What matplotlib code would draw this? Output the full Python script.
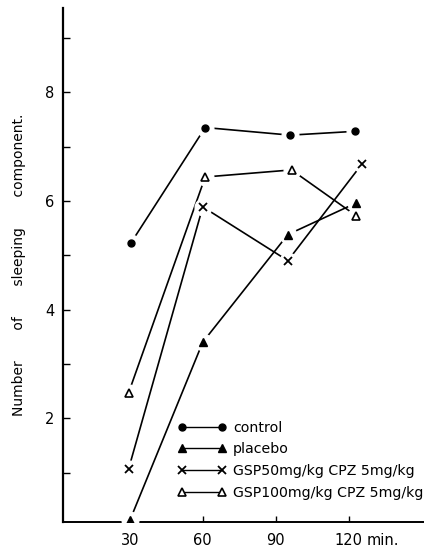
import matplotlib
matplotlib.use("Agg")
import matplotlib.pyplot as plt

# sampling times (min) and number of sleeping components for each group
control_t = [30.5, 61, 96, 122.5]
control_y = [5.23, 7.35, 7.21, 7.28]

placebo_t = [30, 60, 95, 123]
placebo_y = [0.12, 3.40, 5.38, 5.96]

gsp50_t = [29.5, 60, 95, 125.5]
gsp50_y = [1.07, 5.89, 4.90, 6.68]

gsp100_t = [29.5, 61, 96.5, 123]
gsp100_y = [2.47, 6.44, 6.57, 5.73]

labels = ['control', 'placebo', 'GSP50mg/kg CPZ 5mg/kg', 'GSP100mg/kg CPZ 5mg/kg']

xticks = [30, 60, 90, 120]
xticklabels = ['30', '60', '90', '120']
yticks_major = [2, 4, 6, 8]
yticks_minor = [1, 3, 5, 7, 9]

plt.rcParams['font.family'] = ['DejaVu Sans']

fig = plt.figure(figsize=(4.24, 5.49), dpi=100)
ax = fig.add_axes([63 / 424, 1 - 522 / 549, 1 - 63 / 424, (522 - 8) / 549])

series = [
    (control_t, control_y, dict(marker='o', ms=5, mfc='k')),
    (placebo_t, placebo_y, dict(marker='^', ms=6, mfc='k')),
    (gsp50_t, gsp50_y, dict(marker='x', ms=6, mew=1.3)),
    (gsp100_t, gsp100_y, dict(marker='^', ms=6, mfc='white', mew=1.2)),
]

handles = []
for (t, y, st), lab in zip(series, labels):
    ax.plot(t, y, color='k', lw=1.2, zorder=2)
    # white halo leaves a small gap between the line and the marker
    ax.plot(t, y, ls='none', marker='o', ms=12, mfc='white', mec='white', zorder=3)
    ax.plot(t, y, color='k', lw=1.2, ls='none', mec='k', zorder=4, **st)
    lh, = ax.plot([], [], color='k', lw=1.0, mec='k', **st)
    handles.append(lh)

ax.set_xlim(2.5, 151)
ax.set_ylim(0.09, 9.55)

ax.spines['top'].set_visible(False)
ax.spines['right'].set_visible(False)
ax.spines['left'].set_linewidth(1.6)
ax.spines['bottom'].set_linewidth(1.4)

ax.set_xticks(xticks)
ax.set_xticklabels(xticklabels, fontsize=10.5)
ax.set_yticks(yticks_major)
ax.set_yticks(yticks_minor, minor=True)
ax.tick_params(axis='y', which='both', direction='in', length=5, width=1, labelsize=10.5, pad=6)
ax.tick_params(axis='x', direction='in', length=4, width=1, pad=8)

# unit written after the last tick label
ax.annotate('min.', xy=(120, 0), xycoords=('data', 'axes fraction'),
            xytext=(13, -8), textcoords='offset points',
            ha='left', va='top', fontsize=10.5)

ax.set_ylabel('Number       of       sleeping       component.', fontsize=10, labelpad=14)

ax.legend(handles, labels, loc='lower left', frameon=False, fontsize=10.2,
          numpoints=2, handlelength=3.4, handletextpad=0.5, labelspacing=0.55,
          borderpad=0, borderaxespad=0,
          bbox_to_anchor=(178 / 424, 1 - 500 / 549), bbox_transform=fig.transFigure)

fig.savefig('out.png', dpi=100)
